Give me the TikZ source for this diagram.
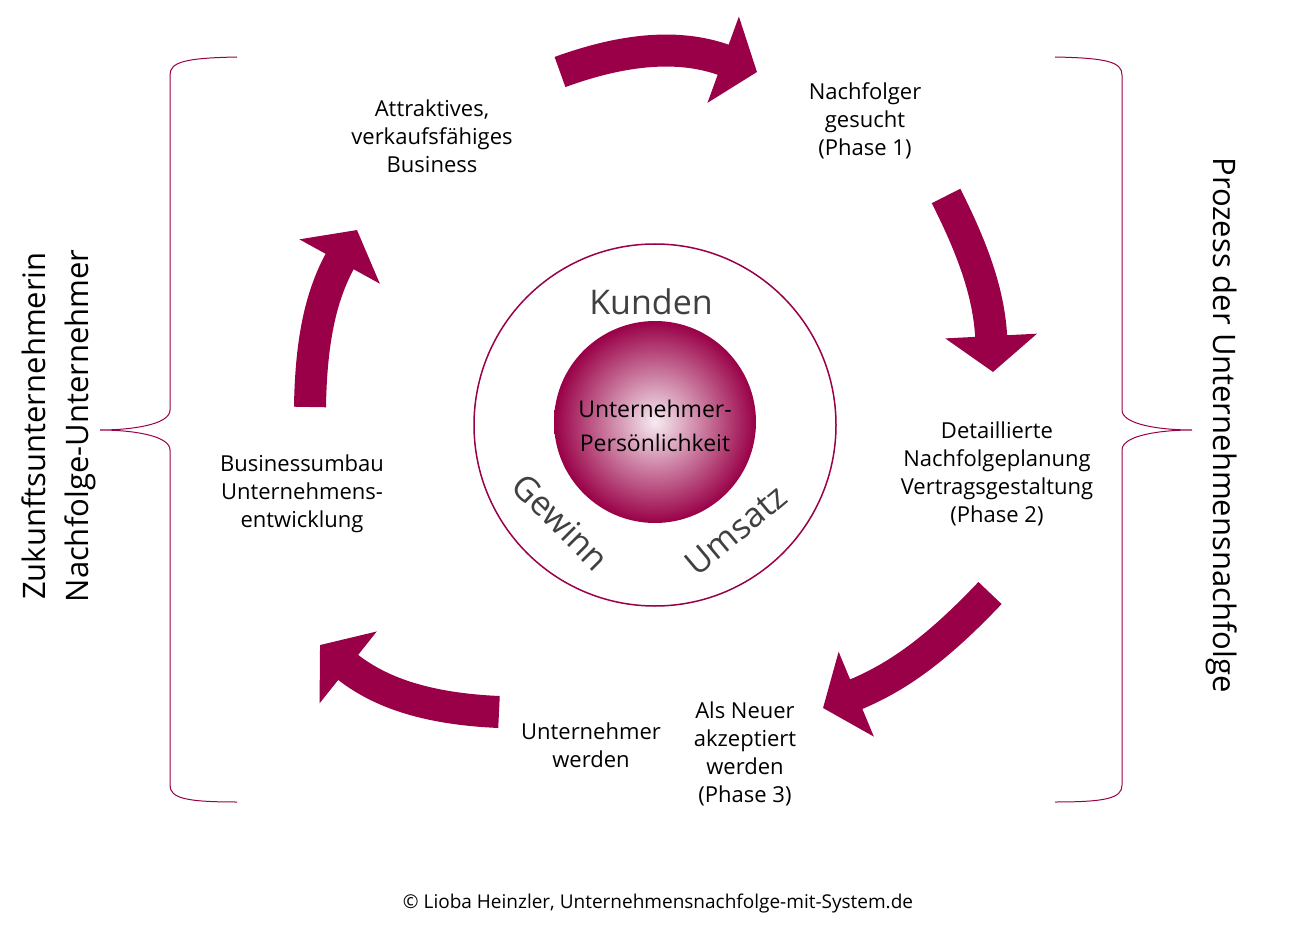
\documentclass[tikz,border=0pt]{standalone}
\usepackage{fontspec}
\setmainfont{Open Sans}
\usetikzlibrary{arrows.meta}
\definecolor{mag}{RGB}{153,0,71}
\definecolor{dg}{RGB}{64,64,64}
\tikzset{
 arr/.style={draw=mag,line width=32pt,-{Triangle[length=36pt,width=90pt]}},
 lbl/.style={align=center,font=\fontsize{22}{28}\selectfont},
 big/.style={font=\fontsize{34}{40}\selectfont,text=dg},
 side/.style={font=\fontsize{31}{43}\selectfont,align=center},
 brace/.style={draw=mag,line width=1pt}
}
\begin{document}
\begin{tikzpicture}[x=1pt,y=1pt]
\useasboundingbox (0,0) rectangle (1307,-928);
% center
\node[circle,draw=mag,line width=1.5pt,minimum size=362pt] (ring) at (655,-425) {};
\shade[inner color=white!92!mag,outer color=mag] (655,-422) circle (101);
\node[lbl,font=\fontsize{23}{34}\selectfont] (core) at (655,-426) {Unternehmer-\\Persönlichkeit};
\node[big] (kunden) at (651,-302) {Kunden};
\node[big,rotate=-45] (gewinn) at (561,-522) {Gewinn};
\node[big,rotate=40] (umsatz) at (736,-530) {Umsatz};
% arrows
\coordinate (t1) at (560,-72); \coordinate (h1) at (757,-72);
\coordinate (t2) at (946,-196); \coordinate (h2) at (993,-372);
\coordinate (t3) at (990,-593); \coordinate (h3) at (823,-708);
\coordinate (t4) at (499,-712); \coordinate (h4) at (320,-645);
\coordinate (t5) at (310,-407); \coordinate (h5) at (357,-230);
\draw[arr] (t1) to[bend left=20] (h1);
\draw[arr] (t2) to[bend left=12] (h2);
\draw[arr] (t3) to[bend left=12] (h3);
\draw[arr] (t4) to[bend left=18] (h4);
\draw[arr] (t5) to[bend left=14] (h5);
% labels
\node[lbl] (a) at (432,-136) {Attraktives,\\verkaufsfähiges\\Business};
\node[lbl] (b) at (865,-121) {Nachfolger\\gesucht\\(Phase 1)};
\node[lbl] (c) at (997,-474) {Detaillierte\\Nachfolgeplanung\\Vertragsgestaltung\\(Phase 2)};
\node[lbl] (d) at (745,-754) {Als Neuer\\akzeptiert\\werden\\(Phase 3)};
\node[lbl] (e) at (591,-745) {Unternehmer\\werden};
\node[lbl] (f) at (302,-494) {Businessumbau\\Unternehmens-\\entwicklung};
% braces
\draw[brace] (237,-57) .. controls (185,-58) and (170,-62) .. (170,-75) -- (170,-410)
  .. controls (170,-425) and (130,-430) .. (100,-430)
  .. controls (130,-430) and (170,-435) .. (170,-450) -- (170,-785)
  .. controls (170,-798) and (185,-802) .. (237,-802);
\draw[brace] (1055,-57) .. controls (1107,-58) and (1122,-62) .. (1122,-75) -- (1122,-410)
  .. controls (1122,-425) and (1162,-430) .. (1192,-430)
  .. controls (1162,-430) and (1122,-435) .. (1122,-450) -- (1122,-785)
  .. controls (1122,-798) and (1107,-802) .. (1055,-802);
\node[side,rotate=90] (l) at (59,-426) {Zukunftsunternehmerin\\Nachfolge-Unternehmer};
\node[side,rotate=-90] (r) at (1222,-425) {Prozess der Unternehmensnachfolge};
\node[font=\fontsize{19}{22}\selectfont] (foot) at (658,-904) {© Lioba Heinzler, Unternehmensnachfolge-mit-System.de};
\end{tikzpicture}
\end{document}
